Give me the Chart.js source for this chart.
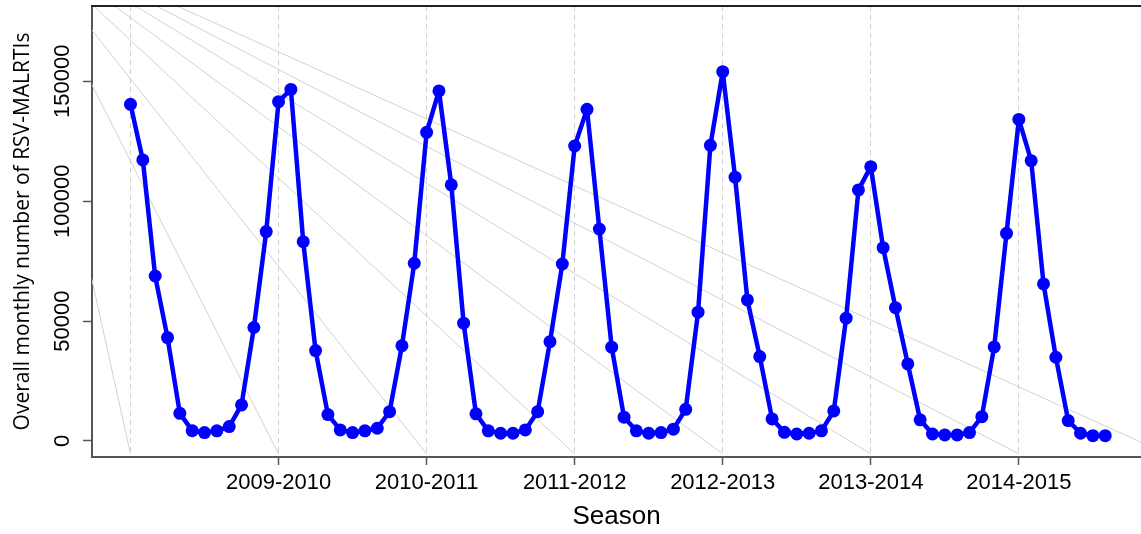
<!DOCTYPE html>
<html>
<head>
<meta charset="utf-8">
<title>Overall monthly number of RSV-MALRTIs</title>
<script src="https://cdn.jsdelivr.net/npm/chart.js@4.4.1/dist/chart.umd.min.js"></script>
<style>
  html, body { margin: 0; padding: 0; background: #ffffff; overflow: hidden; }
  #wrap { position: relative; width: 1141px; height: 534px; }
</style>
</head>
<body>
<div id="wrap"><canvas id="chart"></canvas></div>
<script>
// Month index (0 = first month of the 2008-2009 season)
const monthIndex = Array.from({ length: 80 }, (_, i) => i);

// Overall monthly number of RSV-MALRTIs
const rsvMonthly = [
  140400, 117200, 68800, 43100, 11500, 4300, 3500, 4200, 6000, 15000, 47300, 87300,
  141500, 146600, 83100, 37700, 11000, 4600, 3500, 4200, 5300, 12200, 39700, 74100,
  128700, 146000, 106800, 49100, 11300, 4200, 3200, 3200, 4600, 12200, 41400, 73800,
  123000, 138300, 88400, 39100, 9900, 4200, 3200, 3500, 4900, 13200, 53700, 123300,
  154000, 110000, 58800, 35200, 9200, 3600, 2900, 3200, 4200, 12500, 51200, 104700,
  114400, 80600, 55600, 32100, 8800, 2900, 2500, 2500, 3500, 10100, 39200, 86600,
  134100, 116900, 65500, 34900, 8500, 3200, 2200, 2200
];

// Season boundaries on the month axis and their labels
const seasonTicks = [0, 12, 24, 36, 48, 60, 72];
const seasonLabels = ['', '2009-2010', '2010-2011', '2011-2012', '2012-2013', '2013-2014', '2014-2015'];

// Y axis tick values
const yTicks = [0, 50000, 100000, 150000];

// Light guide lines fanning out from one point to each season boundary
const guideStartX = [-9.36];
const guideStartY = [212000];
const guideEndX = [0, 12, 24, 36, 48, 60, 72, 84];
const guideEndY = [-5400];

// Axis ranges
const xRange = [-3.12, 81.9];
const yRange = [-6700, 181400];

const seriesPoints = monthIndex.map((m, i) => ({ x: m, y: rsvMonthly[i] }));

const guideSets = guideEndX.map(ex => ({
  data: [{ x: guideStartX[0], y: guideStartY[0] }, { x: ex, y: guideEndY[0] }],
  borderColor: '#d2d2d2',
  borderWidth: 1,
  pointRadius: 0,
  tension: 0,
  fill: false
}));

const AXIS_FONT = "'Liberation Sans', Arial, sans-serif";

// Rotated y tick labels and the top frame line
const framePlugin = {
  id: 'framePlugin',
  afterDraw(chart) {
    const { ctx, chartArea, scales } = chart;
    const ys = scales.y;
    ctx.save();
    ctx.strokeStyle = '#222222';
    ctx.lineWidth = 2;
    ctx.beginPath();
    ctx.moveTo(chartArea.left - 1, chartArea.top);
    ctx.lineTo(chartArea.right + 2, chartArea.top);
    ctx.stroke();

    ctx.fillStyle = '#000000';
    ctx.font = '22px ' + AXIS_FONT;
    ctx.textAlign = 'center';
    ctx.textBaseline = 'middle';
    ys.ticks.forEach(t => {
      const py = ys.getPixelForValue(t.value);
      ctx.save();
      ctx.translate(63, py);
      ctx.rotate(-Math.PI / 2);
      ctx.fillText(String(t.value), 0, 0);
      ctx.restore();
    });
    ctx.restore();
  }
};

new Chart(document.getElementById('chart'), {
  type: 'line',
  data: {
    datasets: [
      {
        data: seriesPoints,
        borderColor: '#0000ff',
        backgroundColor: '#0000ff',
        borderWidth: 4.5,
        borderJoinStyle: 'round',
        borderCapStyle: 'round',
        pointRadius: 6.5,
        pointHoverRadius: 6.5,
        pointBackgroundColor: '#0000ff',
        pointBorderWidth: 0,
        tension: 0,
        fill: false
      },
      ...guideSets
    ]
  },
  options: {
    responsive: true,
    maintainAspectRatio: false,
    animation: false,
    devicePixelRatio: 1,
    layout: { autoPadding: false, padding: { top: 6, right: 0, left: 0, bottom: 0 } },
    plugins: {
      legend: { display: false },
      tooltip: { enabled: false }
    },
    scales: {
      x: {
        type: 'linear',
        position: 'bottom',
        min: xRange[0],
        max: xRange[1],
        afterBuildTicks: s => { s.ticks = seasonTicks.map(v => ({ value: v })); },
        afterFit: s => { s.height = 77; },
        ticks: {
          autoSkip: false,
          maxRotation: 0,
          minRotation: 0,
          padding: 5,
          color: '#000000',
          font: { family: AXIS_FONT, size: 22 },
          callback: (v, i) => seasonLabels[i]
        },
        grid: {
          display: true,
          drawOnChartArea: true,
          drawTicks: true,
          color: '#d0d0d0',
          lineWidth: 1,
          tickLength: 8,
          tickWidth: 1.5,
          tickBorderDash: [],
          tickColor: c => (c.index === 0 ? 'rgba(0,0,0,0)' : '#555555')
        },
        border: { display: true, color: '#555555', width: 2, dash: [5, 4] },
        title: {
          display: true,
          text: 'Season',
          color: '#000000',
          font: { family: AXIS_FONT, size: 26 },
          padding: { top: 0, bottom: 2 }
        }
      },
      y: {
        type: 'linear',
        position: 'left',
        min: yRange[0],
        max: yRange[1],
        afterBuildTicks: s => { s.ticks = yTicks.map(v => ({ value: v })); },
        afterFit: s => { s.width = 92; s.paddingTop = 0; s.paddingBottom = 0; },
        ticks: {
          color: 'rgba(0,0,0,0)',
          padding: 0,
          font: { family: AXIS_FONT, size: 1 }
        },
        grid: {
          drawOnChartArea: false,
          drawTicks: true,
          tickLength: 9,
          tickWidth: 1.5,
          tickColor: '#555555'
        },
        border: { display: true, color: '#555555', width: 2 },
        title: {
          display: true,
          text: 'Overall monthly number of RSV-MALRTIs',
          color: '#000000',
          font: { family: "'Open Sans', 'Liberation Sans', sans-serif", size: 21 },
          padding: { top: 10, bottom: 0 }
        }
      }
    }
  },
  plugins: [framePlugin]
});
</script>
</body>
</html>
